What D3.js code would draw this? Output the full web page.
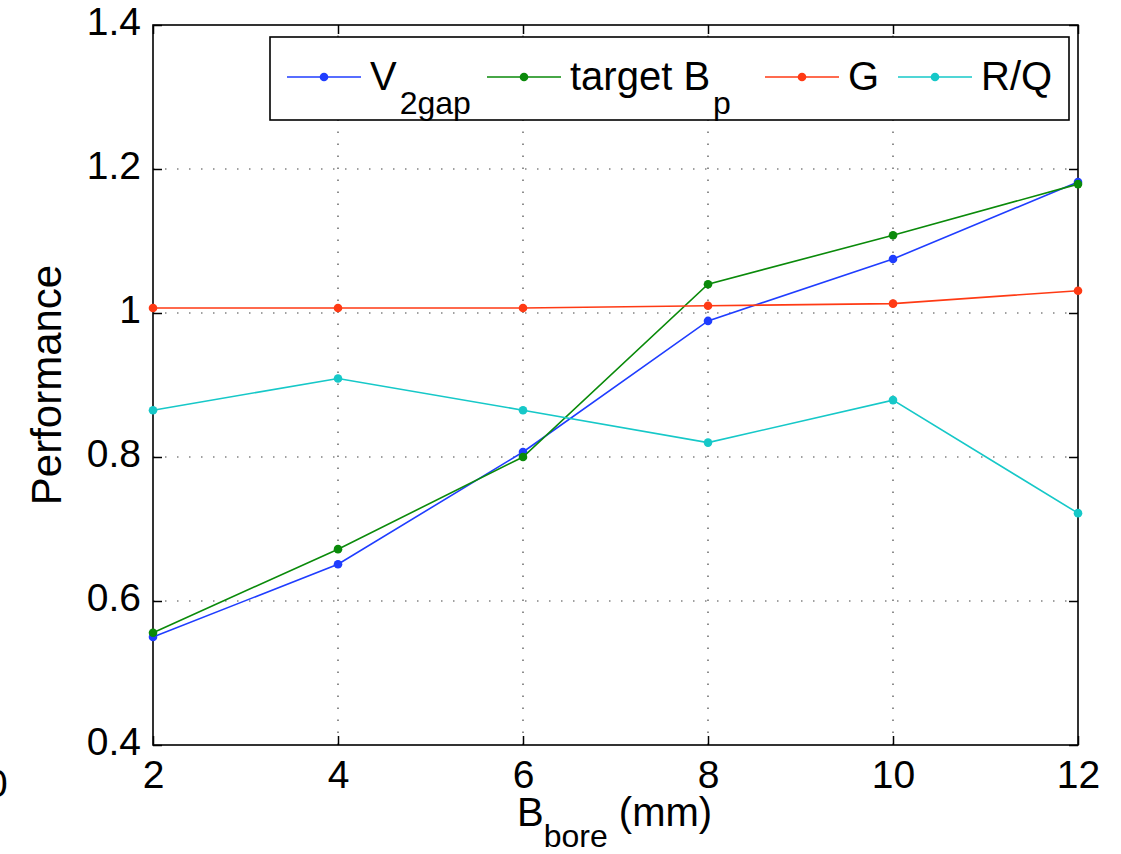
<!DOCTYPE html>
<html lang="en">
<head>
  <meta charset="UTF-8" />
  <script src="https://d3js.org/d3.v7.min.js"></script>
  <title>Performance vs bore</title>
  <style>
    body { margin: 0; background: #fff; }
    svg text { font-family: "Liberation Sans", Arial, Helvetica, sans-serif; }
  </style>
</head>
<body>
  <div id="chart"></div>
  <script>
    // bore radius (mm)
    const bore = [2, 4, 6, 8, 10, 12];

    const v2gap   = [0.550, 0.651, 0.807, 0.989, 1.075, 1.182];
    const targetB = [0.556, 0.672, 0.800, 1.040, 1.108, 1.179];
    const gVals   = [1.007, 1.007, 1.007, 1.010, 1.013, 1.031];
    const rq      = [0.865, 0.909, 0.865, 0.820, 0.879, 0.722];

    const xTicks = [2, 4, 6, 8, 10, 12];
    const yTicks = [0.4, 0.6, 0.8, 1.0, 1.2, 1.4];

    const series = [
      { name: "V", sub: "2gap", values: v2gap, color: "#1f3dff" },
      { name: "target B", sub: "p", values: targetB, color: "#0a8a0a" },
      { name: "G", sub: "", values: gVals, color: "#ff3a14" },
      { name: "R/Q", sub: "", values: rq, color: "#16c8c8" }
    ];

    const width = 1121, height = 854;
    const margin = { top: 25, right: 43, bottom: 109, left: 153 };

    const svg = d3.select("#chart").append("svg")
      .attr("width", width)
      .attr("height", height);

    const x = d3.scaleLinear().domain([2, 12]).range([margin.left, width - margin.right]);
    const y = d3.scaleLinear().domain([0.4, 1.4]).range([height - margin.bottom, margin.top]);

    // dotted grid
    const grid = svg.append("g").attr("stroke", "#444").attr("stroke-width", 1.2)
      .attr("stroke-dasharray", "1.5,10.5");
    grid.selectAll(".gx").data(xTicks.slice(1, -1)).enter().append("line")
      .attr("x1", d => x(d)).attr("x2", d => x(d))
      .attr("y1", y(0.4)).attr("y2", y(1.4));
    grid.selectAll(".gy").data(yTicks.slice(1, -1)).enter().append("line")
      .attr("y1", d => y(d)).attr("y2", d => y(d))
      .attr("x1", x(2)).attr("x2", x(12));

    const tickLen = 9;
    const fmtY = d => d === 1 ? "1" : d3.format(".1f")(d);

    // axes, ticks inward
    const bottomAxis = svg.append("g")
      .attr("transform", `translate(0,${height - margin.bottom})`)
      .call(d3.axisBottom(x).tickValues(xTicks).tickSize(-tickLen).tickPadding(20).tickFormat(d3.format("d")));
    const leftAxis = svg.append("g")
      .attr("transform", `translate(${margin.left},0)`)
      .call(d3.axisLeft(y).tickValues(yTicks).tickSize(-tickLen).tickPadding(12).tickFormat(fmtY));
    svg.append("g")
      .attr("transform", `translate(0,${margin.top})`)
      .call(d3.axisTop(x).tickValues(xTicks).tickSize(-tickLen).tickFormat(""));
    svg.append("g")
      .attr("transform", `translate(${width - margin.right},0)`)
      .call(d3.axisRight(y).tickValues(yTicks).tickSize(-tickLen).tickFormat(""));

    svg.selectAll(".domain").remove();
    svg.selectAll(".tick line").attr("stroke", "#000").attr("stroke-width", 1.5);
    [bottomAxis, leftAxis].forEach(a => a.selectAll("text")
      .attr("fill", "#000").attr("font-size", "39px"));
    bottomAxis.selectAll("text").attr("dy", "0.71em").attr("transform", "translate(0,-5)");
    leftAxis.selectAll("text").attr("dy", "0.25em");

    // box
    svg.append("rect")
      .attr("x", x(2)).attr("y", y(1.4))
      .attr("width", x(12) - x(2)).attr("height", y(0.4) - y(1.4))
      .attr("fill", "none").attr("stroke", "#000").attr("stroke-width", 1.6);

    // lines + markers
    const line = d3.line().x((d, i) => x(bore[i])).y(d => y(d));
    series.forEach(s => {
      svg.append("path").datum(s.values)
        .attr("fill", "none").attr("stroke", s.color).attr("stroke-width", 1.6)
        .attr("d", line);
      svg.selectAll(null).data(s.values).enter().append("circle")
        .attr("cx", (d, i) => x(bore[i])).attr("cy", d => y(d))
        .attr("r", 4.3).attr("fill", s.color);
    });

    // axis labels
    svg.append("text")
      .attr("transform", `translate(61,385) rotate(-90)`)
      .attr("text-anchor", "middle").attr("font-size", "42px").attr("fill", "#000")
      .text("Performance");

    const xl = svg.append("text")
      .attr("x", 517).attr("y", 826)
      .attr("font-size", "40px").attr("fill", "#000");
    xl.append("tspan").text("B");
    xl.append("tspan").attr("dy", 21).attr("font-size", "32px").text("bore");
    xl.append("tspan").attr("dy", -21).text(" (mm)");

    // cut-off tick label from neighbouring panel
    svg.append("text").attr("x", -14).attr("y", 797)
      .attr("font-size", "39px").attr("fill", "#000").text("0");

    // legend
    const lg = svg.append("g");
    lg.append("rect")
      .attr("x", 270).attr("y", 37).attr("width", 799).attr("height", 83)
      .attr("fill", "#fff").attr("stroke", "#000").attr("stroke-width", 1.6);
    const legendX = [287, 487, 765, 898];
    series.forEach((s, i) => {
      const lx = legendX[i], ly = 77;
      lg.append("line").attr("x1", lx).attr("x2", lx + 74).attr("y1", ly).attr("y2", ly)
        .attr("stroke", s.color).attr("stroke-width", 1.6);
      lg.append("circle").attr("cx", lx + 37).attr("cy", ly).attr("r", 4.3).attr("fill", s.color);
      const t = lg.append("text").attr("x", lx + 83).attr("y", ly + 13)
        .attr("font-size", "40px").attr("fill", "#000");
      t.append("tspan").text(s.name);
      if (s.sub) t.append("tspan").attr("dy", 24).attr("dx", 3).attr("font-size", "32px").text(s.sub);
    });
  </script>
</body>
</html>
